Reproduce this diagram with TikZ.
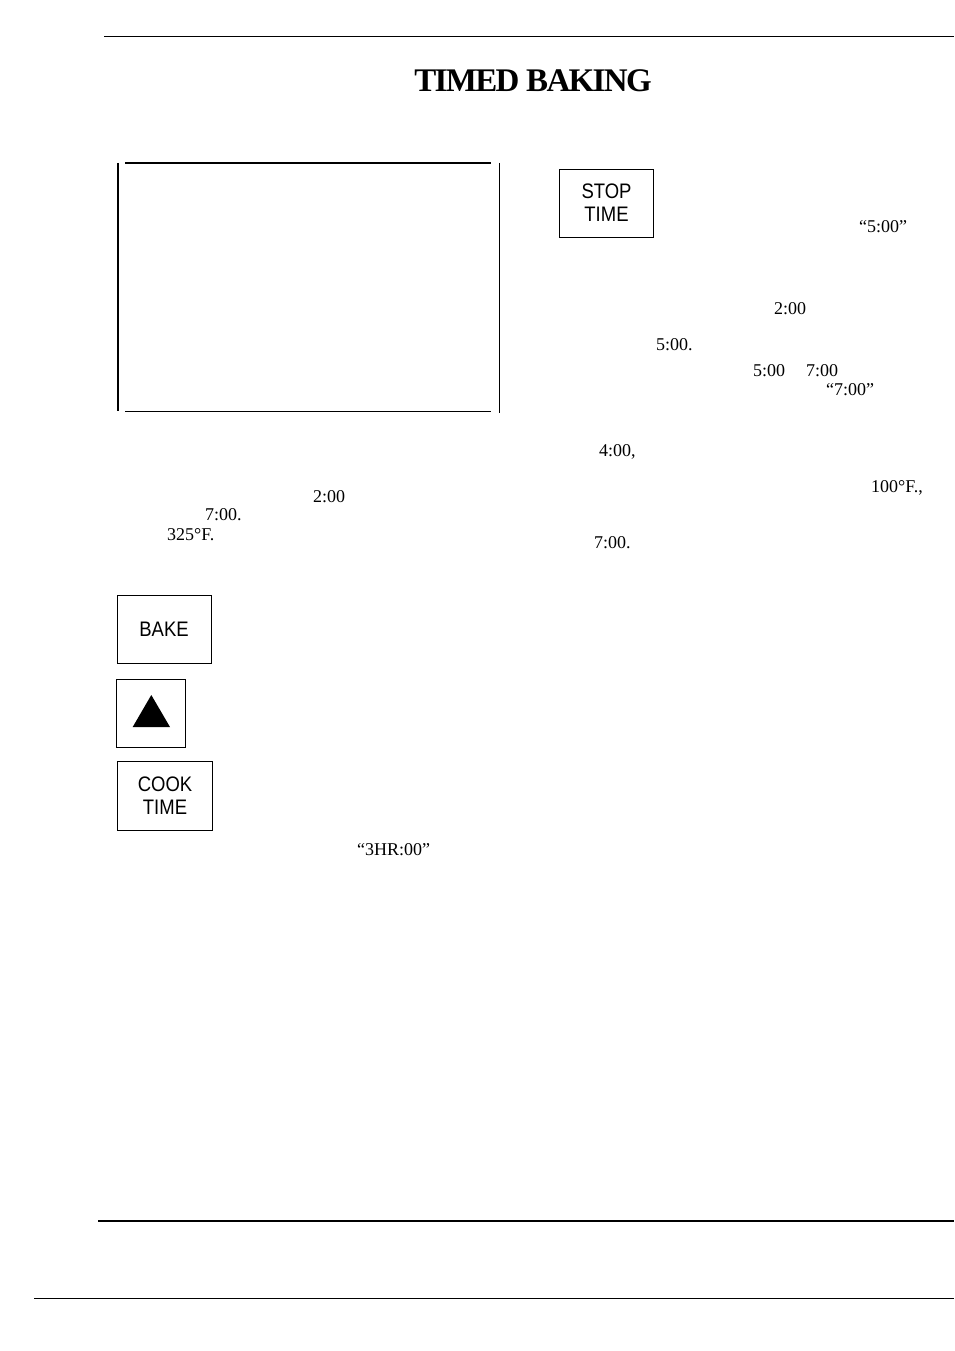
\documentclass[tikz,border=0pt]{standalone}
\usepackage{fontspec}
\setmainfont{Liberation Serif}
\newfontfamily\keyfont[FakeStretch=0.88]{Liberation Sans}
\newfontfamily\titlefont[LetterSpace=-5]{Liberation Serif Bold}
\tikzset{
  pagetext/.style={anchor=base west, inner sep=0pt, font=\fontsize{18}{20}\selectfont},
  keybox/.style={draw, line width=0.9pt, inner sep=0pt, align=center,
    font=\keyfont\fontsize{21}{23}\selectfont},
}

\begin{document}
\begin{tikzpicture}[x=1pt,y=-1pt]
\useasboundingbox (0,0) rectangle (954,1351);

\draw[line width=1.2pt] (104,36.5) -- (954,36.5);
\node[anchor=base, inner sep=0pt, font=\titlefont\fontsize{33}{36}\selectfont] (title) at (533,91.5) {TIMED BAKING};

% empty frame
\draw[line width=2pt] (118,163) -- (118,411);
\draw[line width=2pt] (125,163) -- (491,163);
\draw[line width=1pt] (125,411.5) -- (491,411.5);
\draw[line width=1pt] (499.5,163) -- (499.5,413);

% left column
\node[pagetext] (lefttwo) at (313,502.5) {2:00};
\node[pagetext] (leftseven) at (205,520.5) {7:00.};
\node[pagetext] (lefttemp) at (167,540) {325°F.};

\node[keybox, minimum width=94pt, minimum height=68pt] (bake) at (164,629.5) {BAKE};
\node[draw, line width=0.9pt, inner sep=0pt, minimum width=69pt, minimum height=68pt] (up) at (151.3,713) {};
\fill (132.7,727) -- (151.3,695) -- (170,727) -- cycle;
\node[keybox, minimum width=94.5pt, minimum height=68.5pt] (cook) at (165,796) {COOK\\TIME};
\node[pagetext] (threehr) at (357,855.5) {“3HR:00”};

% right column
\node[keybox, minimum width=93.5pt, minimum height=68pt] (stop) at (606.5,203) {STOP\\TIME};
\node[pagetext] (rightfive) at (859,232.5) {“5:00”};
\node[pagetext] (righttwo) at (774,314) {2:00};
\node[pagetext] (fivedot) at (656,350) {5:00.};
\node[pagetext] (fiveplain) at (753,376.5) {5:00};
\node[pagetext] (sevenplain) at (806,376.5) {7:00};
\node[pagetext] (sevenquote) at (826,395) {“7:00”};
\node[pagetext] (four) at (599,456) {4:00,};
\node[pagetext] (hundred) at (871,492.5) {100°F.,};
\node[pagetext] (sevendot) at (594,548) {7:00.};

\draw[line width=2.2pt] (98,1220.7) -- (954,1220.7);
\draw[line width=1pt] (34,1298.3) -- (954,1298.3);
\end{tikzpicture}
\end{document}
